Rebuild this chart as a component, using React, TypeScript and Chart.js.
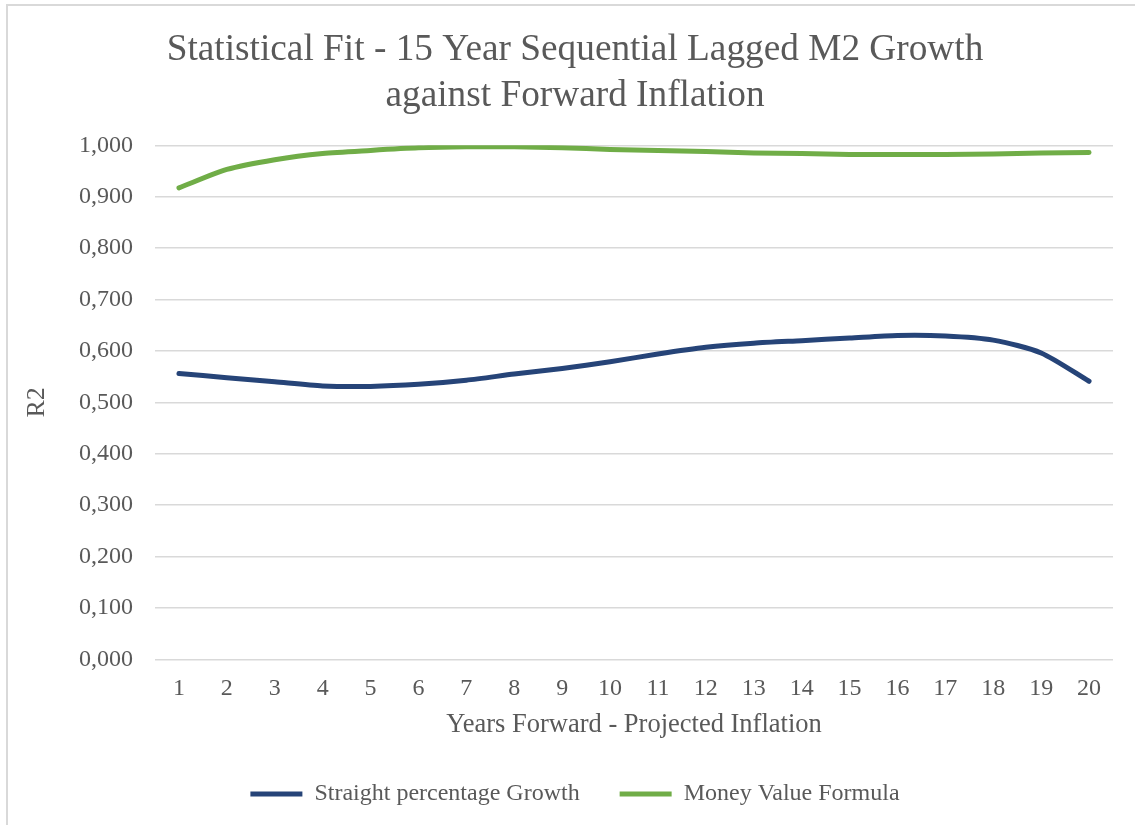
import React, { useEffect, useRef } from "react";
import { Chart, registerables } from "chart.js";

Chart.register(...registerables);

const categories = ["1","2","3","4","5","6","7","8","9","10","11","12","13","14","15","16","17","18","19","20"];
const straightGrowth = [0.556,0.548,0.540,0.532,0.531,0.535,0.543,0.555,0.566,0.579,0.594,0.607,0.615,0.620,0.625,0.630,0.629,0.621,0.596,0.541];
const moneyValue = [0.917,0.953,0.972,0.984,0.990,0.995,0.997,0.997,0.995,0.992,0.990,0.988,0.985,0.984,0.982,0.982,0.982,0.983,0.985,0.986];
const titleLines = ["Statistical Fit - 15 Year Sequential Lagged M2 Growth", "against Forward Inflation"];

const FONT = "'Liberation Serif', 'Times New Roman', serif";
const TEXT = "#595959";
const GRID = "#d9d9d9";

export default function App() {
  const ref = useRef<HTMLCanvasElement | null>(null);
  useEffect(() => {
    if (!ref.current) return;
    const chart = new Chart(ref.current, {
      type: "line",
      data: {
        labels: categories,
        datasets: [
          {
            label: "Straight percentage Growth",
            data: straightGrowth,
            borderColor: "#264478",
            backgroundColor: "#264478",
            borderWidth: 5,
            pointRadius: 0,
            tension: 0.25,
            borderCapStyle: "round",
            borderJoinStyle: "round",
          },
          {
            label: "Money Value Formula",
            data: moneyValue,
            borderColor: "#70ad47",
            backgroundColor: "#70ad47",
            borderWidth: 5,
            pointRadius: 0,
            tension: 0.25,
            borderCapStyle: "round",
            borderJoinStyle: "round",
          },
        ],
      },
      options: {
        animation: false,
        responsive: false,
        maintainAspectRatio: false,
        layout: { padding: { left: 37, right: 22, top: 0, bottom: 9 } },
        plugins: {
          tooltip: { enabled: false },
          title: {
            display: true,
            text: titleLines,
            color: TEXT,
            font: { family: FONT, size: 37.3, weight: "normal", lineHeight: 1.21 },
            padding: { top: 28, bottom: 27 },
          },
          legend: {
            position: "bottom",
            labels: {
              color: TEXT,
              font: { family: FONT, size: 24 },
              boxWidth: 52,
              boxHeight: 5,
              padding: 40,
              generateLabels: (c: any) =>
                c.data.datasets.map((ds: any, i: number) => ({
                  text: ds.label,
                  fillStyle: ds.borderColor,
                  strokeStyle: ds.borderColor,
                  lineWidth: 0,
                  datasetIndex: i,
                  hidden: false,
                  fontColor: TEXT,
                })),
            },
          },
        },
        scales: {
          x: {
            type: "category",
            offset: true,
            grid: { display: false, drawTicks: false },
            border: { display: false },
            ticks: { color: TEXT, font: { family: FONT, size: 24 }, padding: 15, maxRotation: 0 },
            title: {
              display: true,
              text: "Years Forward - Projected Inflation",
              color: TEXT,
              font: { family: FONT, size: 26.5 },
              padding: { top: -9, bottom: 1 },
            },
          },
          y: {
            min: 0,
            max: 1,
            afterFit: (s: any) => { s.width = 118; },
            grid: { color: GRID, lineWidth: 1.5, drawTicks: false },
            border: { display: false },
            ticks: {
              stepSize: 0.1,
              color: TEXT,
              font: { family: FONT, size: 24 },
              padding: 22,
              callback: (v: any) => Number(v).toFixed(3).replace(".", ","),
            },
            title: {
              display: true,
              text: "R2",
              color: TEXT,
              font: { family: FONT, size: 26 },
              padding: { top: -15.5, bottom: 0 },
            },
          },
        },
      },
    });
    return () => chart.destroy();
  }, []);
  return (
    <div style={{ position: "fixed", left: 0, top: 0, width: 1135, height: 825, background: "#fff", overflow: "hidden" }}>
      <div style={{ position: "absolute", left: 6, top: 4, width: 1200, height: 900, borderLeft: `2px solid ${GRID}`, borderTop: `2px solid ${GRID}` }} />
      <canvas ref={ref} width={1135} height={825} style={{ position: "absolute", left: 0, top: 0, width: 1135, height: 825 }} />
    </div>
  );
}
